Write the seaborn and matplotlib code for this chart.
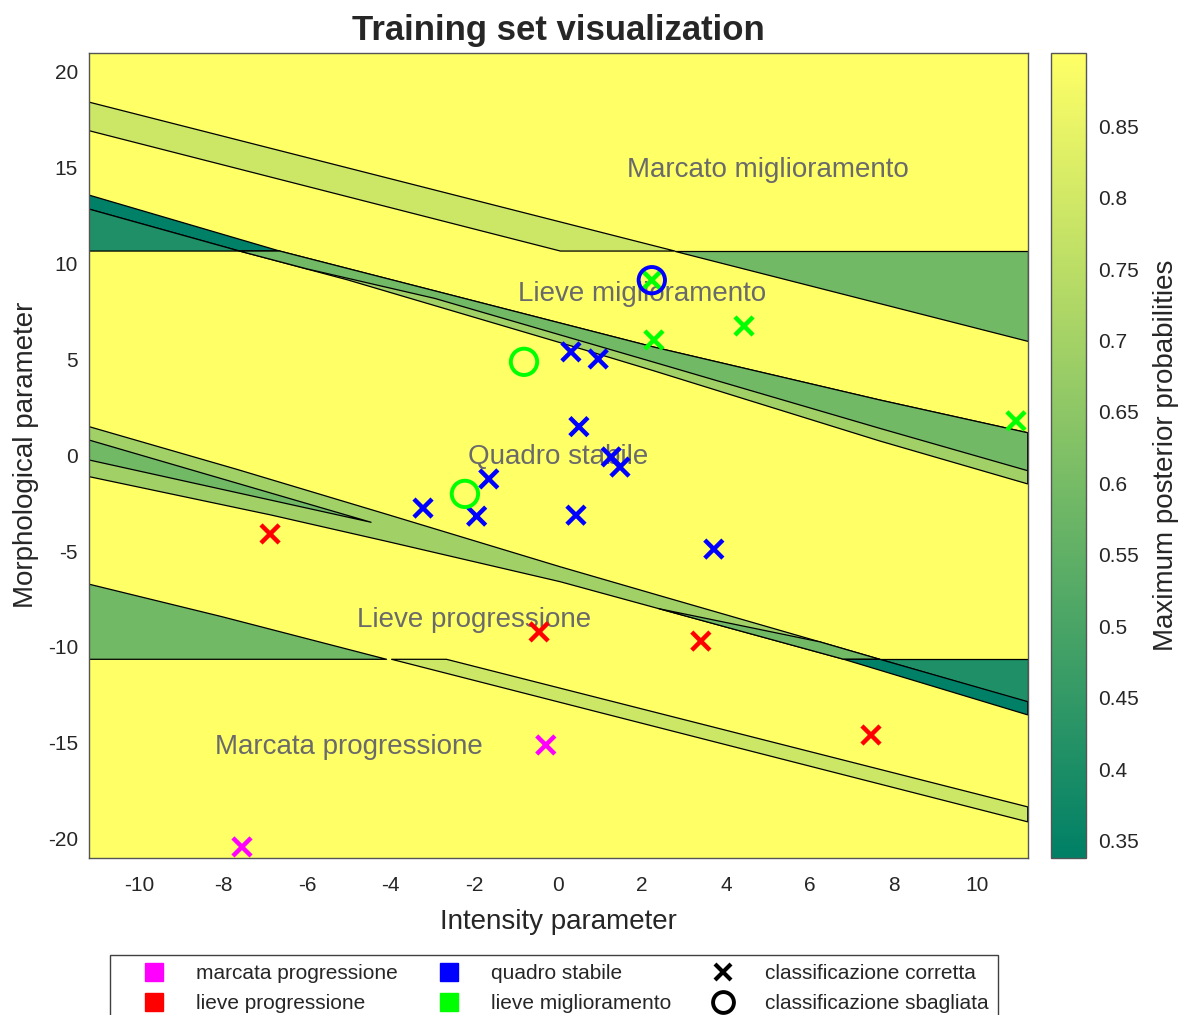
import numpy as np
import pandas as pd
import matplotlib
matplotlib.use("Agg")
import matplotlib.pyplot as plt
from matplotlib.collections import PolyCollection
from matplotlib.colors import Normalize
from matplotlib.lines import Line2D
import seaborn as sns

# ---------------- data ----------------
x_range = [-11.2, 11.2]
y_range = [-21.0, 21.0]
x_ticks = list(range(-10, 11, 2))
y_ticks = list(range(-20, 21, 5))
cbar_ticks = [0.35, 0.4, 0.45, 0.5, 0.55, 0.6, 0.65, 0.7, 0.75, 0.8, 0.85]
prob_min, prob_max = 0.3383, 0.9013

# decision regions (vertices in data units) and their max posterior probability
reg_background = [(-11.2, -21.0), (11.2, -21.0), (11.2, 21.0), (-11.2, 21.0)]
reg_upper_light = [(-11.2, 18.42), (2.78, 10.65), (0.05, 10.65), (-11.2, 16.93)]
reg_upper_right = [(2.78, 10.65), (11.2, 10.65), (11.2, 5.97)]
reg_upper_dark = [(-11.2, 13.57), (-6.65, 10.65), (-7.61, 10.65), (-11.2, 12.84)]
reg_upper_teal = [(-11.2, 12.84), (-7.61, 10.65), (-11.2, 10.65)]
reg_upper_band = [(-7.61, 10.65), (-6.65, 10.65), (2.28, 5.64), (7.67, 2.88), (11.2, 1.17),
                  (11.2, -1.50), (7.67, 0.74), (2.28, 4.40), (0.63, 5.49), (-5.02, 9.14)]
reg_upper_core = [(-7.61, 10.65), (-6.65, 10.65), (2.28, 5.64), (7.67, 2.88), (11.2, 1.17),
                  (11.2, -0.81), (7.67, 1.40), (2.28, 4.85), (-2.95, 8.18), (-6.0, 9.72)]
reg_lower_band = [(-11.2, 1.49), (-7.67, -0.74), (-4.07, -3.10), (0.04, -5.82), (2.42, -7.33),
                  (6.24, -9.74), (7.67, -10.65), (6.81, -10.65), (2.40, -8.01), (0.04, -6.60),
                  (-4.07, -4.51), (-6.86, -3.12), (-11.2, -1.12)]
reg_lower_sliver = [(-11.2, 0.79), (-4.47, -3.50), (-11.2, -0.25)]
reg_lower_wedge = [(2.40, -8.01), (6.24, -9.74), (7.67, -10.65), (6.81, -10.65)]
reg_lower_teal = [(7.67, -10.65), (11.2, -10.65), (11.2, -12.86)]
reg_lower_dark = [(6.81, -10.65), (7.67, -10.65), (11.2, -12.86), (11.2, -13.55)]
reg_lower_left = [(-11.2, -6.73), (-8.04, -8.42), (-4.10, -10.65), (-11.2, -10.65)]
reg_lower_light = [(-3.98, -10.65), (-2.67, -10.65), (11.2, -18.35), (11.2, -19.13)]

regions = [reg_background, reg_upper_light, reg_upper_right, reg_upper_dark, reg_upper_teal,
           reg_upper_band, reg_upper_core, reg_lower_band, reg_lower_sliver, reg_lower_wedge,
           reg_lower_teal, reg_lower_dark, reg_lower_left, reg_lower_light]
region_prob = [0.90, 0.788, 0.591, 0.339, 0.406,
               0.692, 0.591, 0.692, 0.591, 0.591,
               0.406, 0.339, 0.591, 0.788]

region_names = ["Marcato miglioramento", "Lieve miglioramento", "Quadro stabile",
                "Lieve progressione", "Marcata progressione"]
region_name_x = [5.0, 2.0, 0.0, -2.0, -5.0]
region_name_y = [14.9, 8.4, -0.1, -8.6, -15.2]

# training points
pt_x = [-7.55, -0.30,
        -6.88, -0.46, 3.40, 7.46,
        0.30, 0.95, 0.49, 1.26, 1.47, -1.66, -3.23, -1.95, 0.42, 3.71,
        2.23, 2.28, 4.43, 10.92,
        -0.82, -2.23,
        2.23]
pt_y = [-20.44, -15.12,
        -4.11, -9.22, -9.70, -14.60,
        5.39, 5.02, 1.49, -0.09, -0.62, -1.24, -2.76, -3.18, -3.13, -4.90,
        9.13, 6.01, 6.74, 1.79,
        4.87, -2.02,
        9.13]
pt_class = (["marcata progressione"] * 2 + ["lieve progressione"] * 4 +
            ["quadro stabile"] * 10 + ["lieve miglioramento"] * 4 +
            ["lieve miglioramento"] * 2 + ["quadro stabile"])
pt_correct = [True] * 20 + [False] * 3

class_names = ["marcata progressione", "lieve progressione", "quadro stabile", "lieve miglioramento"]
class_colors = ["#ff00ff", "#ff0000", "#0000ff", "#00ff00"]

# ---------------- plot ----------------
sns.set_style("white")
plt.rcParams['font.family'] = ['Liberation Sans', 'DejaVu Sans']
plt.rcParams['axes.unicode_minus'] = False

df = pd.DataFrame({"x": pt_x, "y": pt_y, "cls": pt_class, "ok": pt_correct})
palette = dict(zip(class_names, class_colors))

fig = plt.figure(figsize=(11.87, 10.15), dpi=100)
ax = fig.add_axes([0.075, 0.155, 0.7908, 0.7931])
cax = fig.add_axes([0.8854, 0.155, 0.0295, 0.7931])

norm = Normalize(vmin=prob_min, vmax=prob_max)
edge_cols = ['none'] + ['black'] * (len(regions) - 1)
pc = PolyCollection(regions, array=np.array(region_prob), cmap='summer', norm=norm,
                    edgecolors=edge_cols, linewidths=0.9, zorder=1)
ax.add_collection(pc)

for name, tx, ty in zip(region_names, region_name_x, region_name_y):
    ax.text(tx, ty, name, fontsize=20, color='#6a6a6a', ha='center', va='center', zorder=3)

ok = df[df.ok]
bad = df[~df.ok]
sns.scatterplot(data=ok, x="x", y="y", hue="cls", palette=palette, marker="x",
                s=170, linewidth=3.2, legend=False, ax=ax, zorder=4)
for cls, col in palette.items():
    sub = bad[bad.cls == cls]
    if len(sub):
        sns.scatterplot(data=sub, x="x", y="y", color=col, marker="o", s=360,
                        facecolor="none", edgecolor=col, linewidth=2.8,
                        legend=False, ax=ax, zorder=5)

ax.set_xlim(x_range)
ax.set_ylim(y_range)
ax.set_xticks(x_ticks)
ax.set_yticks(y_ticks)
ax.tick_params(direction='in', top=True, right=True, length=6, width=0.8,
               labelsize=15, colors='#262626')
ax.tick_params(axis='x', pad=13)
ax.tick_params(axis='y', pad=8)
for sp in ax.spines.values():
    sp.set_color('#555555')
    sp.set_linewidth(1.0)
ax.set_xlabel("Intensity parameter", fontsize=20, color='#262626', labelpad=10)
ax.set_ylabel("Morphological parameter", fontsize=20, color='#262626', labelpad=6)
ax.set_title("Training set visualization", fontsize=25, fontweight='bold', pad=9)

cb = fig.colorbar(pc, cax=cax)
cb.set_ticks(cbar_ticks)
cb.set_ticklabels([f"{t:g}" for t in cbar_ticks])
cb.ax.tick_params(direction='in', length=6, width=0.8, labelsize=15, colors='#262626', pad=9)
cb.outline.set_edgecolor('#555555')
cb.outline.set_linewidth(1.0)
cb.set_label("Maximum posterior probabilities", fontsize=20, color='#262626', labelpad=10)

handles = [Line2D([], [], marker='s', linestyle='none', markersize=13,
                  markerfacecolor=c, markeredgecolor=c) for c in class_colors]
handles += [Line2D([], [], marker='x', linestyle='none', color='black', markersize=11,
                   markeredgewidth=3),
            Line2D([], [], marker='o', linestyle='none', markerfacecolor='none',
                   markeredgecolor='black', markersize=15, markeredgewidth=2.8)]
labels = class_names + ["classificazione corretta", "classificazione sbagliata"]
fig.legend(handles, labels, loc='upper center', bbox_to_anchor=(0.4667, 0.0591),
           bbox_transform=fig.transFigure, ncol=3, fontsize=15, frameon=True,
           fancybox=False, edgecolor='#404040', framealpha=1, handlelength=3.3,
           handletextpad=0.38, columnspacing=0.8, borderpad=0.45, labelspacing=0.5,
           borderaxespad=0)

fig.savefig("out.png", dpi=100)
